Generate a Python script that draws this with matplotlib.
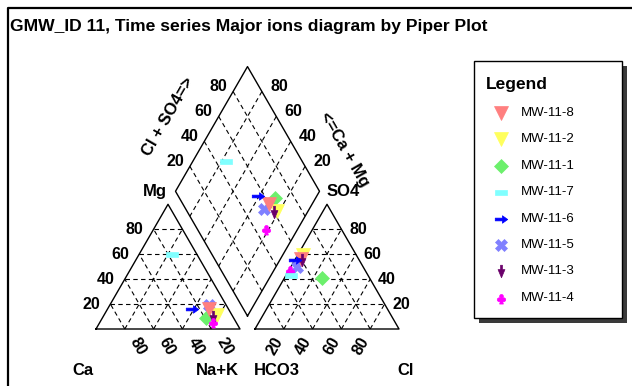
import numpy as np
import matplotlib
matplotlib.use("Agg")
import matplotlib.pyplot as plt
from matplotlib.path import Path
from matplotlib.patches import Rectangle

plt.rcParams['font.family'] = ['Liberation Sans', 'DejaVu Sans']

# sample series (legend order)
series = ["MW-11-8", "MW-11-2", "MW-11-1", "MW-11-7", "MW-11-6", "MW-11-5", "MW-11-3", "MW-11-4"]

# cations, % meq/L
ca = [13.5, 10.5, 19.0, 17.5, 25.0, 12.0, 13.5, 16.0]
mg = [16.0, 11.0, 9.0, 60.0, 16.0, 19.5, 10.0, 6.0]
na_k = [70.5, 78.5, 72.0, 22.5, 59.0, 68.5, 76.5, 78.0]

# anions, % meq/L
hco3 = [40.0, 37.0, 33.5, 53.0, 44.5, 46.0, 40.0, 52.0]
so4 = [56.0, 59.5, 40.5, 43.5, 55.0, 50.0, 55.0, 47.5]
cl = [4.0, 3.5, 26.0, 3.5, 0.5, 4.0, 5.0, 0.5]

ticks = [20, 40, 60, 80]

colors = ["#FF7F7F", "#FFFF5C", "#6CF06C", "#80FFFF", "#0000FF", "#8080FF", "#6A006A", "#FF00FF"]

# custom marker shapes
bar = Path([(-1, -0.4), (1, -0.4), (1, 0.4), (-1, 0.4), (-1, -0.4)], closed=True)
arrow_r = Path([(-1, -0.22), (0.15, -0.22), (0.15, -0.6), (1, 0), (0.15, 0.6),
                (0.15, 0.22), (-1, 0.22), (-1, -0.22)], closed=True)
arrow_d = Path([(-0.15, 1), (0.15, 1), (0.15, 0.3), (0.55, 0.3), (0, -1),
                (-0.55, 0.3), (-0.15, 0.3), (-0.15, 1)], closed=True)
club = Path.make_compound_path(
    Path.circle((0, 0.35), 0.3), Path.circle((-0.38, -0.2), 0.3), Path.circle((0.38, -0.2), 0.3),
    Path([(-0.08, 0), (-0.3, -0.9), (0.3, -0.9), (0.08, 0), (-0.08, 0)], closed=True))
markers = ["v", "v", "D", bar, arrow_r, "X", arrow_d, club]
sizes = [10, 10, 7, 9, 9, 8, 9, 8]
# stacking of the symbols, bottom to top
draw_order = [5, 2, 1, 0, 6, 7, 4, 3]

h = np.sqrt(3) / 2
g = 15 / 144  # gap between triangles

fig = plt.figure(figsize=(6.32, 3.86), dpi=100)
ax = fig.add_axes([0, 0, 1, 1])
ax.set_xlim(-96 / 144, (632 - 96) / 144)
ax.set_ylim((329 - 386) / 144, 329 / 144)
ax.axis('off')

P = 1 / 144  # one pixel in data units
grid_kw = dict(color='black', lw=0.8, ls=(0, (4, 3)))
edge_kw = dict(color='black', lw=1.0)


def tri_grid(x0):
    for t in np.array(ticks) / 100:
        ax.plot([x0 + t / 2, x0 + 1 - t / 2], [t * h, t * h], **grid_kw)
        ax.plot([x0 + 1 - t, x0 + (1 - t) / 2], [0, (1 - t) * h], **grid_kw)
        ax.plot([x0 + t, x0 + (1 + t) / 2], [0, (1 - t) * h], **grid_kw)
    ax.plot([x0, x0 + 1, x0 + 0.5, x0], [0, 0, h, 0], **edge_kw)


tri_grid(0)
tri_grid(1 + g)

# diamond
B = np.array([1 + g / 2, g * h])


def dpt(n, c):
    return B + (1 - n) * np.array([-0.5, h]) + (1 - c) * np.array([0.5, h])


for t in np.array(ticks) / 100:
    a, b = dpt(t, 0), dpt(t, 1)
    ax.plot([a[0], b[0]], [a[1], b[1]], **grid_kw)
    a, b = dpt(0, t), dpt(1, t)
    ax.plot([a[0], b[0]], [a[1], b[1]], **grid_kw)
corners = np.array([dpt(1, 1), dpt(1, 0), dpt(0, 0), dpt(0, 1), dpt(1, 1)])
ax.plot(corners[:, 0], corners[:, 1], **edge_kw)

# data points
ca_a, mg_a, na_a = np.array(ca) / 100, np.array(mg) / 100, np.array(na_k) / 100
hc_a, so_a, cl_a = np.array(hco3) / 100, np.array(so4) / 100, np.array(cl) / 100
cx, cy = na_a + mg_a / 2, mg_a * h
axx, ayy = 1 + g + cl_a + so_a / 2, so_a * h
dx = 1 + g / 2 + 0.5 * (na_a - hc_a)
dy = g * h + h * (2 - na_a - hc_a)

for i in draw_order:
    for xs, ys in ((cx, cy), (axx, ayy), (dx, dy)):
        ax.plot(xs[i], ys[i], linestyle='none', marker=markers[i], ms=sizes[i],
                color=colors[i], mec=colors[i], mew=0.5)

fs = 11.5
tk = dict(fontsize=fs, fontweight='bold', va='center')
for v in ticks:
    t = v / 100
    # cation left side (Mg)
    ax.text(t / 2 - 10 * P, t * h, str(v), ha='right', **tk)
    # cation base (Ca)
    ax.text(1 - t + 13.5 * P, -17.5 * P, str(v), ha='center', rotation=-60, **tk)
    # anion base (Cl)
    ax.text(1 + g + t - 9 * P, -17.5 * P, str(v), ha='center', rotation=60, **tk)
    # anion right side (SO4)
    ax.text(1 + g + 1 - t / 2 + 8 * P, t * h, str(v), ha='left', **tk)
    # diamond upper-left (Cl+SO4)
    p = dpt(0, 1 - t)
    ax.text(p[0] - 15 * P, p[1] + 5 * P, str(v), ha='center', **tk)
    # diamond upper-right (Ca+Mg)
    p = dpt(1 - t, 0)
    ax.text(p[0] + 17 * P, p[1] + 5 * P, str(v), ha='center', **tk)

lb = dict(fontsize=12, fontweight='bold', va='center')
L, R = dpt(0, 1), dpt(1, 0)
ax.text(L[0] - 9 * P, L[1], "Mg", ha='right', **lb)
ax.text(R[0] + 7 * P, R[1], "SO4", ha='left', **lb)
ax.text(-12.7 * P, -41.7 * P, "Ca", ha='center', **lb)
ax.text(1 - 22.7 * P, -41.7 * P, "Na+K", ha='center', **lb)
ax.text(1 + g + 21.7 * P, -41.7 * P, "HCO3", ha='center', **lb)
ax.text(2 + g + 6.7 * P, -41.7 * P, "Cl", ha='center', **lb)
ax.text((168 - 96) * P, (329 - 117) * P, "Cl + SO4=>", ha='center', rotation=60, **lb)
ax.text((344 - 96) * P, (329 - 149) * P, "<=Ca + Mg", ha='center', rotation=-60, **lb)

# overlay in pixel coordinates: frame, title, legend
lay = fig.add_axes([0, 0, 1, 1])
lay.set_xlim(0, 632)
lay.set_ylim(386, 0)
lay.axis('off')

lay.plot([7.5, 7.5, 700], [500, 7.5, 7.5], color='black', lw=1.6, clip_on=False)
lay.text(9.5, 31, "GMW_ID 11, Time series Major ions diagram by Piper Plot",
         fontsize=12.6, fontweight='bold', ha='left', va='baseline')

lay.add_patch(Rectangle((479, 66), 148, 257, facecolor='#3a3a3a', edgecolor='none'))
lay.add_patch(Rectangle((474, 61), 148, 257, facecolor='white', edgecolor='black', lw=1))
lay.text(486, 84, "Legend", fontsize=12.5, fontweight='bold', ha='left', va='center')
for i, name in enumerate(series):
    y = 113 + i * 26.4
    lay.plot(501, y, linestyle='none', marker=markers[i], ms=sizes[i],
             color=colors[i], mec=colors[i], mew=0.5)
    lay.text(521, y, name, fontsize=9.5, ha='left', va='center')

fig.savefig("out.png", dpi=100)
